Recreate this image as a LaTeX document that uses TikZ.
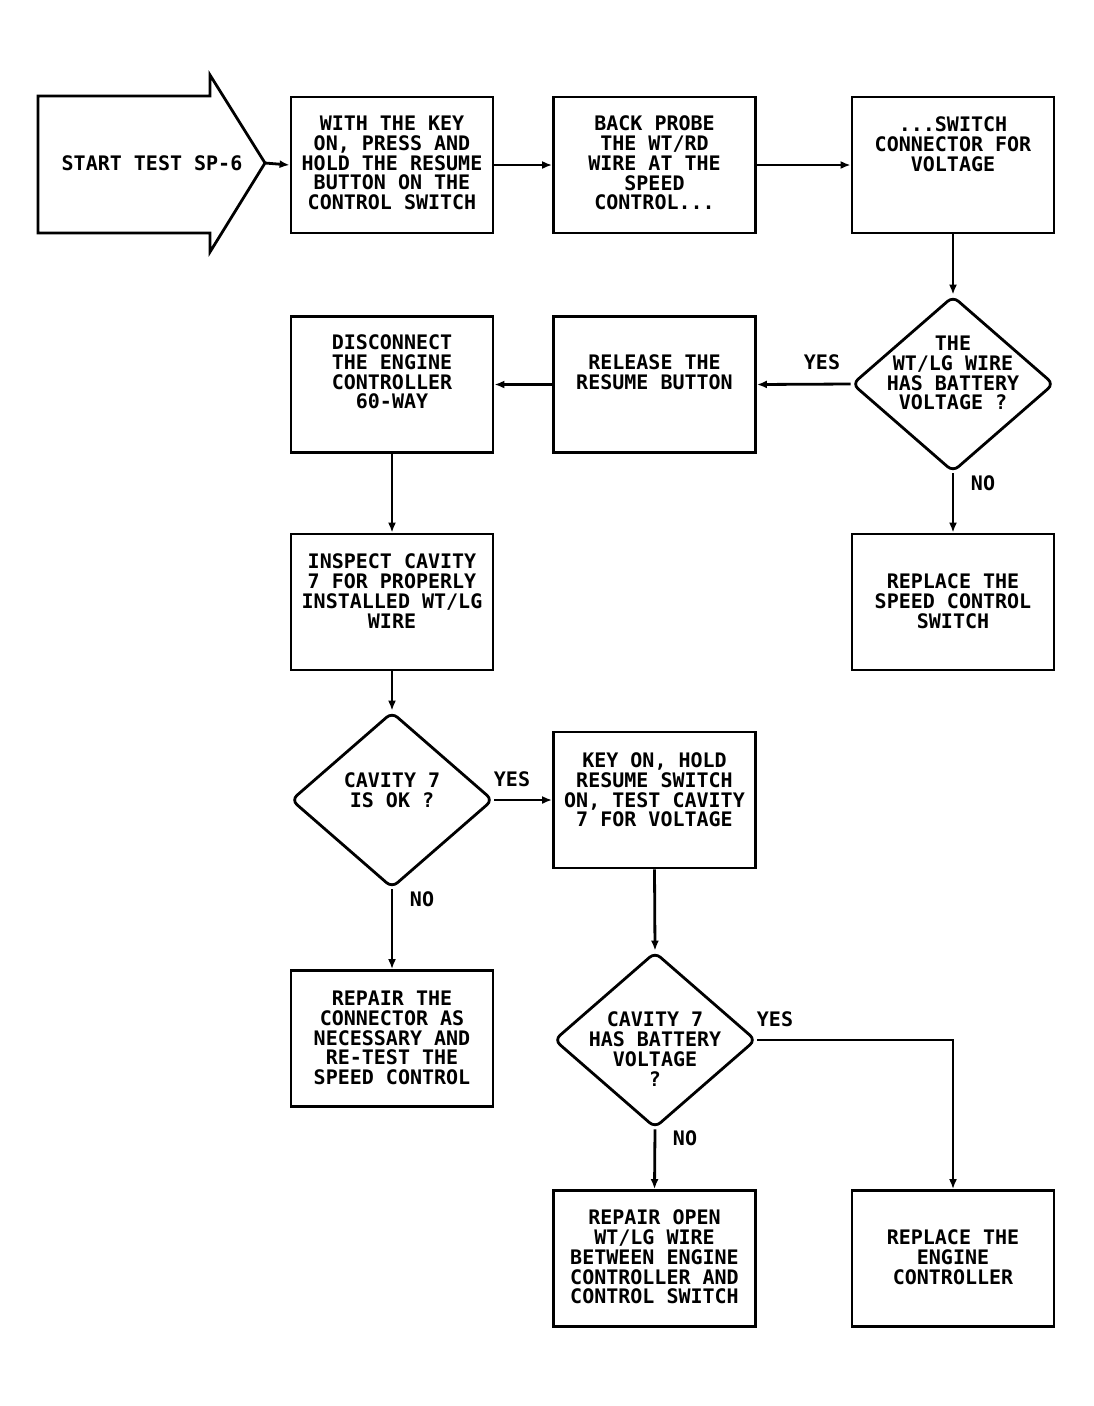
\documentclass[tikz,border=0pt]{standalone}
\usepackage{fontspec}
\newfontfamily\plotter{DejaVu Sans Mono}
\usetikzlibrary{shapes.geometric,arrows.meta}
\tikzset{
  box/.style={draw, line width=2.8pt, minimum width=202, minimum height=136, inner sep=0},
  dec/.style={draw, diamond, line width=2.8pt, minimum width=202, minimum height=176, inner sep=0, rounded corners=7},
  txt/.style={align=center, font=\plotter\bfseries\fontsize{20}{19.8}\selectfont, inner sep=0},
  lbl/.style={font=\plotter\bfseries\fontsize{20}{20}\selectfont, inner sep=0},
  arr/.style={line width=2.8pt, -{Latex[length=10,width=8]}}
}
\begin{document}
\begin{tikzpicture}[x=1pt,y=-1pt]
\useasboundingbox (0,0) rectangle (1093,1406);

% start arrow
\draw[line width=2.8pt] (38,96) -- (210,96) -- (210,75) -- (265,163) -- (210,252) -- (210,233) -- (38,233) -- cycle;
\coordinate (tip) at (265,163);
\node[txt] (start) at (152,163) {START TEST SP-6};

% boxes
\node[box] (hold) at (392,165) {};
\node[txt] (hold-t) at (392,163) {WITH THE KEY\\ON, PRESS AND\\HOLD THE RESUME\\BUTTON ON THE\\CONTROL SWITCH};
\node[box] (probe) at (654.5,165) {};
\node[txt] (probe-t) at (654.5,163) {BACK PROBE\\THE WT/RD\\WIRE AT THE\\SPEED\\CONTROL...};
\node[box] (switch) at (953,165) {};
\node[txt] (switch-t) at (953,144) {...SWITCH\\CONNECTOR FOR\\VOLTAGE};
\node[box] (release) at (654.5,384.5) {};
\node[txt] (release-t) at (654.5,372) {RELEASE THE\\RESUME BUTTON};
\node[box] (unplug) at (392,384.5) {};
\node[txt] (unplug-t) at (392,372) {DISCONNECT\\THE ENGINE\\CONTROLLER\\60-WAY};
\node[box] (swap) at (953,602) {};
\node[txt] (swap-t) at (953,601) {REPLACE THE\\SPEED CONTROL\\SWITCH};
\node[box] (inspect) at (392,602) {};
\node[txt] (inspect-t) at (392,591) {INSPECT CAVITY\\7 FOR PROPERLY\\INSTALLED WT/LG\\WIRE};
\node[box] (keyon) at (654.5,800) {};
\node[txt] (keyon-t) at (654.5,790) {KEY ON, HOLD\\RESUME SWITCH\\ON, TEST CAVITY\\7 FOR VOLTAGE};
\node[box] (fixconn) at (392,1038.5) {};
\node[txt] (fixconn-t) at (392,1038) {REPAIR THE\\CONNECTOR AS\\NECESSARY AND\\RE-TEST THE\\SPEED CONTROL};
\node[box] (fixwire) at (654.5,1258.5) {};
\node[txt] (fixwire-t) at (654.5,1257) {REPAIR OPEN\\WT/LG WIRE\\BETWEEN ENGINE\\CONTROLLER AND\\CONTROL SWITCH};
\node[box] (newecu) at (953,1258.5) {};
\node[txt] (newecu-t) at (953,1257) {REPLACE THE\\ENGINE\\CONTROLLER};

% decisions
\node[dec] (q1) at (953,384) {};
\node[txt] (q1-t) at (953,373) {THE\\WT/LG WIRE\\HAS BATTERY\\VOLTAGE ?};
\node[dec] (q2) at (392,800) {};
\node[txt] (q2-t) at (392,790) {CAVITY 7\\IS OK ?};
\node[dec] (q3) at (655,1040) {};
\node[txt] (q3-t) at (655,1049) {CAVITY 7\\HAS BATTERY\\VOLTAGE\\?};

% connectors
\draw[arr] (tip) -- (hold.west);
\draw[arr] (hold.east) -- (probe.west);
\draw[arr] (probe.east) -- (switch.west);
\draw[arr] (switch.south) -- (q1.north);
\draw[arr] (q1.west) -- (release.east);
\draw[arr] (release.west) -- (unplug.east);
\draw[arr] (q1.south) -- (swap.north);
\draw[arr] (unplug.south) -- (inspect.north);
\draw[arr] (inspect.south) -- (q2.north);
\draw[arr] (q2.east) -- (keyon.west);
\draw[arr] (q2.south) -- (fixconn.north);
\draw[arr] (keyon.south) -- (q3.north);
\draw[arr] (q3.east) -| (newecu.north);
\draw[arr] (q3.south) -- (fixwire.north);

% yes / no
\node[lbl] (yes1) at (822,362) {YES};
\node[lbl] (no1) at (983,483) {NO};
\node[lbl] (yes2) at (512,779) {YES};
\node[lbl] (no2) at (422,899) {NO};
\node[lbl] (yes3) at (775,1019) {YES};
\node[lbl] (no3) at (685,1138) {NO};
\end{tikzpicture}
\end{document}
